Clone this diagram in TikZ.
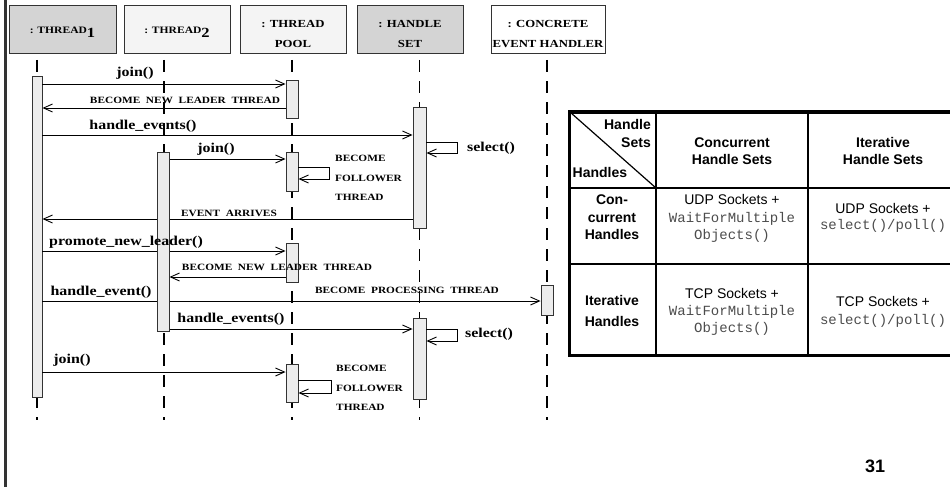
\documentclass[tikz,border=0pt]{standalone}
\usepackage{fontspec}
\setmainfont{Liberation Serif}
\setsansfont{Liberation Sans}
\setmonofont{Liberation Mono}
\newfontfamily\seqfont{Liberation Serif}[FakeStretch=1.18]
\usetikzlibrary{arrows.meta}

\definecolor{hdrdark}{gray}{0.83}
\definecolor{hdrlight}{gray}{0.955}
\definecolor{barfill}{gray}{0.925}
\definecolor{edgegray}{gray}{0.2}
\definecolor{monogray}{gray}{0.3}

\tikzset{
  header/.style={draw=edgegray, line width=0.9pt, minimum height=48pt, inner sep=0pt,
    align=center, font=\seqfont\bfseries\fontsize{10.8}{20}\selectfont},
  twoline/.style={text height=36.6pt, text depth=0pt},
  lifeline/.style={dash pattern=on 12pt off 9pt},
  actbar/.style={draw=edgegray, fill=barfill, line width=0.9pt, inner sep=0pt, anchor=north},
  msg/.style={line width=0.9pt, -{Straight Barb[length=9pt,width=8pt]}},
  msglabel/.style={inner sep=0pt, font=\seqfont\bfseries\fontsize{13.5}{15}\selectfont},
  caplabel/.style={inner sep=0pt, align=left, font=\seqfont\bfseries\fontsize{9.6}{19.3}\selectfont},
  tabhead/.style={inner sep=0pt, font=\sffamily\bfseries\fontsize{14}{17.5}\selectfont},
  tabcell/.style={inner sep=0pt, align=center, font=\fontsize{14}{17.5}\selectfont},
}

\begin{document}
\begin{tikzpicture}[x=1pt, y=-1pt]
\useasboundingbox (0,0) rectangle (950,487);

% slide frame
\draw[line width=2.5pt, color=gray!40!black] (5.3,-5) -- (5.3,492);

% object headers
\node[header, fill=hdrdark, minimum width=107pt, text height=10pt, text depth=0pt,
      font=\seqfont\bfseries\fontsize{9.8}{12}\selectfont] (hT1) at (62.5,29)
      {: THREAD\raisebox{-4pt}{\fontsize{14}{14}\selectfont 1}};
\node[header, fill=hdrlight, minimum width=106pt, text height=10pt, text depth=0pt,
      font=\seqfont\bfseries\fontsize{9.8}{12}\selectfont] (hT2) at (177,29)
      {: THREAD\raisebox{-4pt}{\fontsize{14}{14}\selectfont 2}};
\node[header, twoline, fill=hdrlight, minimum width=106pt] (hTP) at (293,29)
      {: THREAD\\POOL};
\node[header, twoline, fill=hdrdark, minimum width=106pt] (hHS) at (410,29)
      {: HANDLE\\SET};
\node[header, twoline, fill=white, minimum width=114pt] (hCE) at (548,29)
      {: CONCRETE\\EVENT HANDLER};

% lifelines
\coordinate (lT1) at (37,60);   \coordinate (eT1) at (37,420);
\coordinate (lT2) at (164,60);  \coordinate (eT2) at (164,420);
\coordinate (lTP) at (292,60);  \coordinate (eTP) at (292,420);
\coordinate (lHS) at (419.5,60);\coordinate (eHS) at (419.5,420);
\coordinate (lCE) at (547,60);  \coordinate (eCE) at (547,420);
\draw[lifeline, line width=2.2pt] (lT1) -- (eT1);
\draw[lifeline, line width=2.2pt] (lT2) -- (eT2);
\draw[lifeline, line width=1.4pt] (lTP) -- (eTP);
\draw[lifeline, line width=1.6pt] (lHS) -- (eHS);
\draw[lifeline, line width=2.2pt] (lCE) -- (eCE);

% activation bars (placed first so the messages can refer to them)
\path
  node[actbar, minimum width=10pt, minimum height=321pt] (t1a) at (37,76) {}
  node[actbar, minimum width=11pt, minimum height=179pt] (t2a) at (163.5,152) {}
  node[actbar, minimum width=12pt, minimum height=38pt]  (p1)  at (292,80) {}
  node[actbar, minimum width=12pt, minimum height=39pt]  (p2)  at (292,152) {}
  node[actbar, minimum width=12pt, minimum height=39pt]  (p3)  at (292,243) {}
  node[actbar, minimum width=12pt, minimum height=38pt]  (p4)  at (292,364) {}
  node[actbar, minimum width=13pt, minimum height=121pt] (h1)  at (419.5,107) {}
  node[actbar, minimum width=13pt, minimum height=81pt]  (h2)  at (419.5,318) {}
  node[actbar, minimum width=12pt, minimum height=30pt]  (c1)  at (547,285) {};

% messages
\draw[msg] (t1a.east |- 0,84)  -- (p1.west |- 0,84);
\draw[msg] (p1.west |- 0,108)  -- (t1a.east |- 0,108);
\draw[msg] (t1a.east |- 0,135) -- (h1.west |- 0,135);
\draw[msg] (h1.east |- 0,142) -- (457,142) -- (457,153) -- (h1.east |- 0,153);
\draw[msg] (t2a.east |- 0,159) -- (p2.west |- 0,159);
\draw[msg] (p2.east |- 0,167) -- (329,167) -- (329,179) -- (p2.east |- 0,179);
\draw[msg] (h1.west |- 0,219) -- (t1a.east |- 0,219);
\draw[msg] (t1a.east |- 0,251) -- (p3.west |- 0,251);
\draw[msg] (p3.west |- 0,277) -- (t2a.east |- 0,277);
\draw[msg] (t1a.east |- 0,301) -- (c1.west |- 0,301);
\draw[msg] (t2a.east |- 0,329) -- (h2.west |- 0,329);
\draw[msg] (h2.east |- 0,329) -- (457,329) -- (457,341) -- (h2.east |- 0,341);
\draw[msg] (t1a.east |- 0,372) -- (p4.west |- 0,372);
\draw[msg] (p4.east |- 0,380) -- (331,380) -- (331,393) -- (p4.east |- 0,393);

% the second thread's bar drawn again over the messages that pass behind it
\draw[draw=edgegray, fill=barfill, line width=0.9pt] (t2a.north west) rectangle (t2a.south east);

% message labels
\node[msglabel] (mJoin1) at (135,73.5) {join()};
\node[caplabel] (mLead1) at (185,100) {BECOME~~NEW~~LEADER~~THREAD};
\node[msglabel] (mHev1) at (143,126) {handle\_events()};
\node[msglabel, anchor=west] (mSel1) at (467,148.5) {select()};
\node[msglabel] (mJoin2) at (216,149) {join()};
\node[caplabel, anchor=west] (mFol1) at (335,178) {BECOME\\FOLLOWER\\THREAD};
\node[caplabel] (mArr) at (229,213) {EVENT~~ARRIVES};
\node[msglabel] (mProm) at (126,242) {promote\_new\_leader()};
\node[caplabel] (mLead2) at (277,267) {BECOME~~NEW~~LEADER~~THREAD};
\node[msglabel] (mHev) at (101,292) {handle\_event()};
\node[caplabel] (mProc) at (407,290) {BECOME~~PROCESSING~~THREAD};
\node[msglabel] (mHev2) at (231,319) {handle\_events()};
\node[msglabel, anchor=west] (mSel2) at (465,334.5) {select()};
\node[msglabel] (mJoin3) at (72,360) {join()};
\node[caplabel, anchor=west] (mFol2) at (336,388) {BECOME\\FOLLOWER\\THREAD};

% handle / handle set table
\draw[line width=3.5pt] (569.7,111.8) rectangle (965,355.3);
\draw[line width=1.3pt] (656,111.8) -- (656,355.3);
\draw[line width=1.3pt] (808,111.8) -- (808,355.3);
\draw[line width=1.3pt] (569.7,188) -- (965,188);
\draw[line width=1.3pt] (569.7,264) -- (965,264);
\draw[line width=1.2pt] (569.7,111.8) -- (656,188);

\node[tabhead, anchor=east, align=right] (tSets) at (651,133.5) {Handle\\Sets};
\node[tabhead, anchor=west] (tHandles) at (572.5,172) {Handles};
\node[tabhead, align=center] (tColA) at (732,151) {Concurrent\\Handle Sets};
\node[tabhead, align=center] (tColB) at (883,151) {Iterative\\Handle Sets};
\node[tabhead, align=center] (tRowA) at (612,217.5) {Con-\\current\\Handles};
\node[tabhead, align=center, font=\sffamily\bfseries\fontsize{14}{21}\selectfont] (tRowB) at (612,310.5) {Iterative\\Handles};

\node[tabcell] (cAA) at (732,218.5)
  {{\sffamily UDP Sockets +}\\{\ttfamily\color{monogray}WaitForMultiple}\\{\ttfamily\color{monogray}Objects()}};
\node[tabcell, font=\fontsize{14}{16}\selectfont] (cAB) at (883,218)
  {{\sffamily UDP Sockets +}\\{\ttfamily\color{monogray}select()/poll()}};
\node[tabcell, font=\fontsize{14}{17}\selectfont] (cBA) at (732,311.5)
  {{\sffamily TCP Sockets +}\\{\ttfamily\color{monogray}WaitForMultiple}\\{\ttfamily\color{monogray}Objects()}};
\node[tabcell, font=\fontsize{14}{18}\selectfont] (cBB) at (883,311.5)
  {{\sffamily TCP Sockets +}\\{\ttfamily\color{monogray}select()/poll()}};

% page number
\node[inner sep=0pt, font=\sffamily\bfseries\fontsize{18}{18}\selectfont] (pageno) at (875,466) {31};
\end{tikzpicture}
\end{document}
